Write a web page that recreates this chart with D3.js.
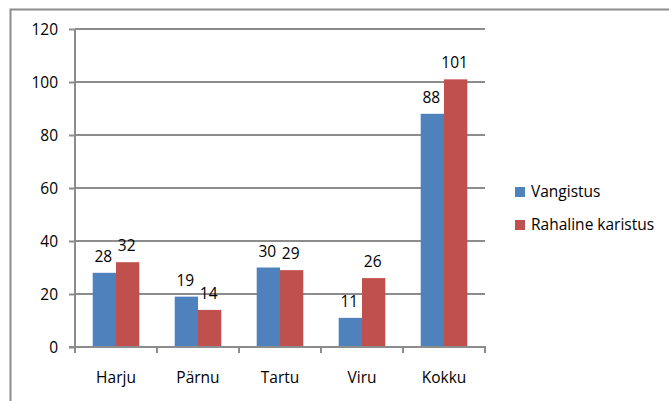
<!DOCTYPE html>
<html><head><meta charset="utf-8">
<script src="https://cdn.jsdelivr.net/npm/d3@7"></script>
<style>body{margin:0;background:#fff}svg{display:block}text{font-family:"Open Sans",Lato,sans-serif;font-size:15.5px;fill:#000}</style>
</head><body>
<script>
const categories = ["Harju","Pärnu","Tartu","Viru","Kokku"];
const seriesNames = ["Vangistus","Rahaline karistus"];
const vangistus = [28,19,30,11,88];
const rahaline = [32,14,29,26,101];
const yTicks = [0,20,40,60,80,100,120];
const colors = ["#4f81bd","#c0504d"];

const W=669,H=401;
const svg=d3.select("body").append("svg").attr("width",W).attr("height",H);
// outer border
svg.append("path").attr("d",`M10.5,${H+2} V9.5 H${W+2}`).attr("fill","none").attr("stroke","#8c8c8c").attr("stroke-width",2);

const x0=75,x1=485,yTop=29,yBot=347;
const x=d3.scaleBand().domain(categories).range([x0,x1]);
const xs=d3.scaleBand().domain(seriesNames).range([0,x.bandwidth()]).paddingInner(0).paddingOuter(0.76);
const y=d3.scaleLinear().domain([0,120]).range([yBot,yTop]);

const g=svg.append("g");
// gridlines
g.selectAll("line.grid").data(yTicks.filter(d=>d>0)).join("line")
 .attr("x1",x0).attr("x2",x1).attr("y1",d=>y(d)).attr("y2",d=>y(d))
 .attr("stroke","#8c8c8c").attr("stroke-width",2);

const data=[vangistus,rahaline];
seriesNames.forEach((s,i)=>{
  g.selectAll(null).data(categories).join("rect")
   .attr("x",c=>x(c)+xs(s)).attr("width",xs.bandwidth())
   .attr("y",(c,j)=>y(data[i][j])).attr("height",(c,j)=>yBot-y(data[i][j]))
   .attr("fill",colors[i]);
  g.selectAll(null).data(categories).join("text")
   .attr("x",c=>x(c)+xs(s)+xs.bandwidth()/2-1).attr("y",(c,j)=>y(data[i][j])-11)
   .attr("text-anchor","middle").text((c,j)=>data[i][j]);
});

// y axis
const yAxis=d3.axisLeft(y).tickValues(yTicks).tickSize(6).tickPadding(11);
const ya=svg.append("g").attr("transform",`translate(${x0},0)`).call(yAxis);
ya.select(".domain").attr("stroke","#8c8c8c").attr("stroke-width",2).attr("d",`M0,${yTop}V${yBot}`);
ya.selectAll(".tick line").attr("stroke","#8c8c8c").attr("stroke-width",2);
ya.selectAll("text").attr("font-size",null).attr("font-family",null).attr("dy","0.35em");

// x axis
const xa=svg.append("g").attr("transform",`translate(0,${yBot})`);
xa.append("line").attr("x1",x0-6).attr("x2",x1+1).attr("stroke","#8c8c8c").attr("stroke-width",2);
const edges=categories.map(c=>x(c)).concat([x1]);
xa.selectAll("line.t").data(edges).join("line").attr("x1",d=>d).attr("x2",d=>d).attr("y1",0).attr("y2",6)
 .attr("stroke","#8c8c8c").attr("stroke-width",2);
xa.selectAll("text").data(categories).join("text").attr("x",c=>x(c)+x.bandwidth()/2).attr("y",36)
 .attr("text-anchor","middle").text(c=>c);

// legend
const lg=svg.append("g").attr("transform","translate(515,187)");
seriesNames.forEach((s,i)=>{
  const r=lg.append("g").attr("transform",`translate(0,${i*33})`);
  r.append("rect").attr("width",10).attr("height",10).attr("fill",colors[i]);
  r.append("text").attr("x",16).attr("y",10).text(s);
});
</script>
</body></html>
